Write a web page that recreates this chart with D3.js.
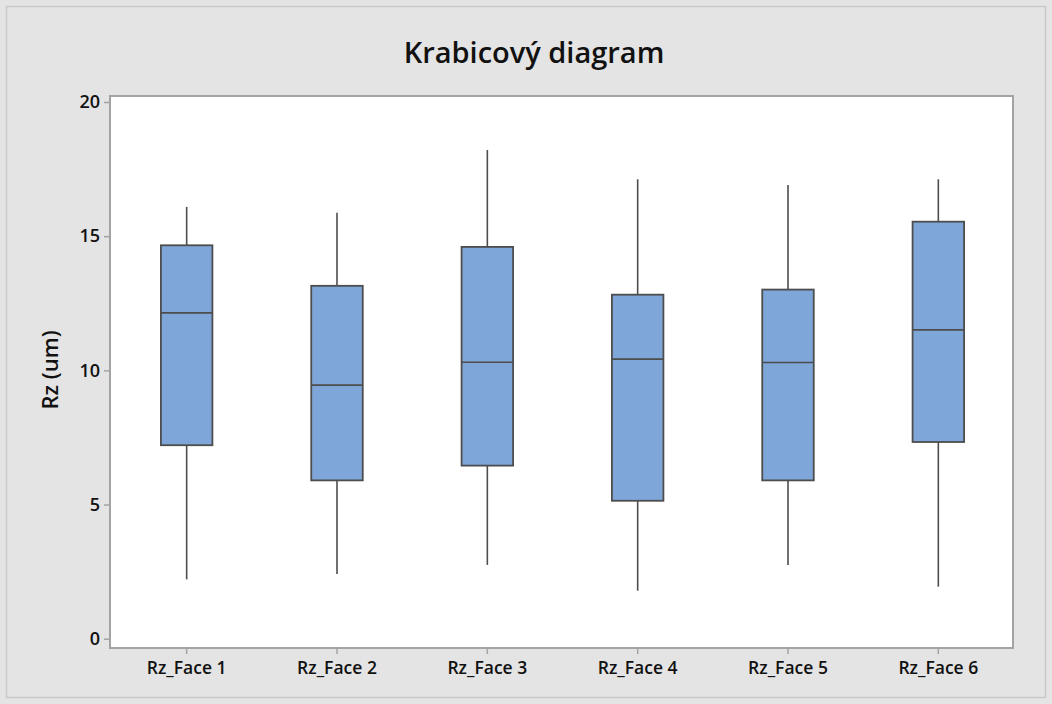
<!DOCTYPE html>
<html>
<head>
<meta charset="utf-8">
<script src="https://cdn.jsdelivr.net/npm/d3@7"></script>
<style>
  html, body { margin: 0; padding: 0; background: #e4e4e4; }
  svg { display: block; }
  text { font-family: "Open Sans", "Noto Sans", sans-serif; fill: #111; }
</style>
</head>
<body>
<svg id="chart" width="1052" height="704"></svg>
<script>
// Five-number summaries per face (Rz, um)
const categories = ["Rz_Face 1", "Rz_Face 2", "Rz_Face 3", "Rz_Face 4", "Rz_Face 5", "Rz_Face 6"];
const minValues    = [2.21, 2.41, 2.75, 1.79, 2.75, 1.94];
const q1Values     = [7.21, 5.90, 6.45, 5.14, 5.90, 7.33];
const medianValues = [12.14, 9.45, 10.30, 10.42, 10.29, 11.51];
const q3Values     = [14.66, 13.15, 14.60, 12.82, 13.01, 15.54];
const maxValues    = [16.09, 15.87, 18.21, 17.12, 16.91, 17.12];
const yTicks = [0, 5, 10, 15, 20];

const boxes = categories.map((c, i) => ({
  name: c, min: minValues[i], q1: q1Values[i], med: medianValues[i], q3: q3Values[i], max: maxValues[i]
}));

const svg = d3.select("#chart");
const W = 1052, H = 704;
const plot = { left: 110, right: 1013, top: 96, bottom: 648 };

// Outer panel
svg.append("rect")
  .attr("x", 6.5).attr("y", 6.5)
  .attr("width", W - 13).attr("height", H - 13)
  .attr("fill", "#e4e4e4").attr("stroke", "#c9c9c9").attr("stroke-width", 1.5);

// Data area
svg.append("rect")
  .attr("x", plot.left).attr("y", plot.top)
  .attr("width", plot.right - plot.left).attr("height", plot.bottom - plot.top)
  .attr("fill", "#ffffff").attr("stroke", "#a3a3a3").attr("stroke-width", 2);

const x = d3.scaleBand().domain(categories).range([111.5, 1013.5]).padding(0);
const y = d3.scaleLinear().domain([0, 20]).range([638.7, 102]);

// Y axis
const yAxis = d3.axisLeft(y).tickValues(yTicks).tickSize(5).tickPadding(4).tickFormat(d3.format("d"));
const gy = svg.append("g").attr("transform", `translate(${plot.left - 1},0)`).call(yAxis);
gy.select(".domain").remove();
gy.selectAll(".tick line").attr("stroke", "#a3a3a3").attr("stroke-width", 1.5);
gy.selectAll(".tick text").attr("font-size", 18).attr("font-weight", 600).attr("fill", "#111");

// X axis
const xAxis = d3.axisBottom(x).tickSize(5).tickPadding(8);
const gx = svg.append("g").attr("transform", `translate(0,${plot.bottom + 1})`).call(xAxis);
gx.select(".domain").remove();
gx.selectAll(".tick line").attr("stroke", "#a3a3a3").attr("stroke-width", 1.5);
gx.selectAll(".tick text").attr("font-size", 17.5).attr("font-weight", 600).attr("fill", "#111");

// Boxes and whiskers
const boxW = 51.5;
const stroke = "#4d4d4d";
const g = svg.append("g");
const item = g.selectAll("g.box").data(boxes).join("g").attr("class", "box")
  .attr("transform", d => `translate(${x(d.name) + x.bandwidth() / 2},0)`);

item.append("line")
  .attr("x1", 0).attr("x2", 0)
  .attr("y1", d => y(d.max)).attr("y2", d => y(d.q3))
  .attr("stroke", stroke).attr("stroke-width", 1.6);
item.append("line")
  .attr("x1", 0).attr("x2", 0)
  .attr("y1", d => y(d.q1)).attr("y2", d => y(d.min))
  .attr("stroke", stroke).attr("stroke-width", 1.6);
item.append("rect")
  .attr("x", -boxW / 2).attr("width", boxW)
  .attr("y", d => y(d.q3)).attr("height", d => y(d.q1) - y(d.q3))
  .attr("fill", "#7ea6d8").attr("stroke", stroke).attr("stroke-width", 1.8);
item.append("line")
  .attr("x1", -boxW / 2).attr("x2", boxW / 2)
  .attr("y1", d => y(d.med)).attr("y2", d => y(d.med))
  .attr("stroke", stroke).attr("stroke-width", 1.6);

// Titles
svg.append("text")
  .attr("x", 534).attr("y", 63)
  .attr("text-anchor", "middle")
  .attr("font-size", 29).attr("font-weight", 600)
  .text("Krabicový diagram");

svg.append("text")
  .attr("transform", "translate(58,370) rotate(-90)")
  .attr("text-anchor", "middle")
  .attr("font-size", 22).attr("font-weight", 600)
  .text("Rz (um)");
</script>
</body>
</html>
